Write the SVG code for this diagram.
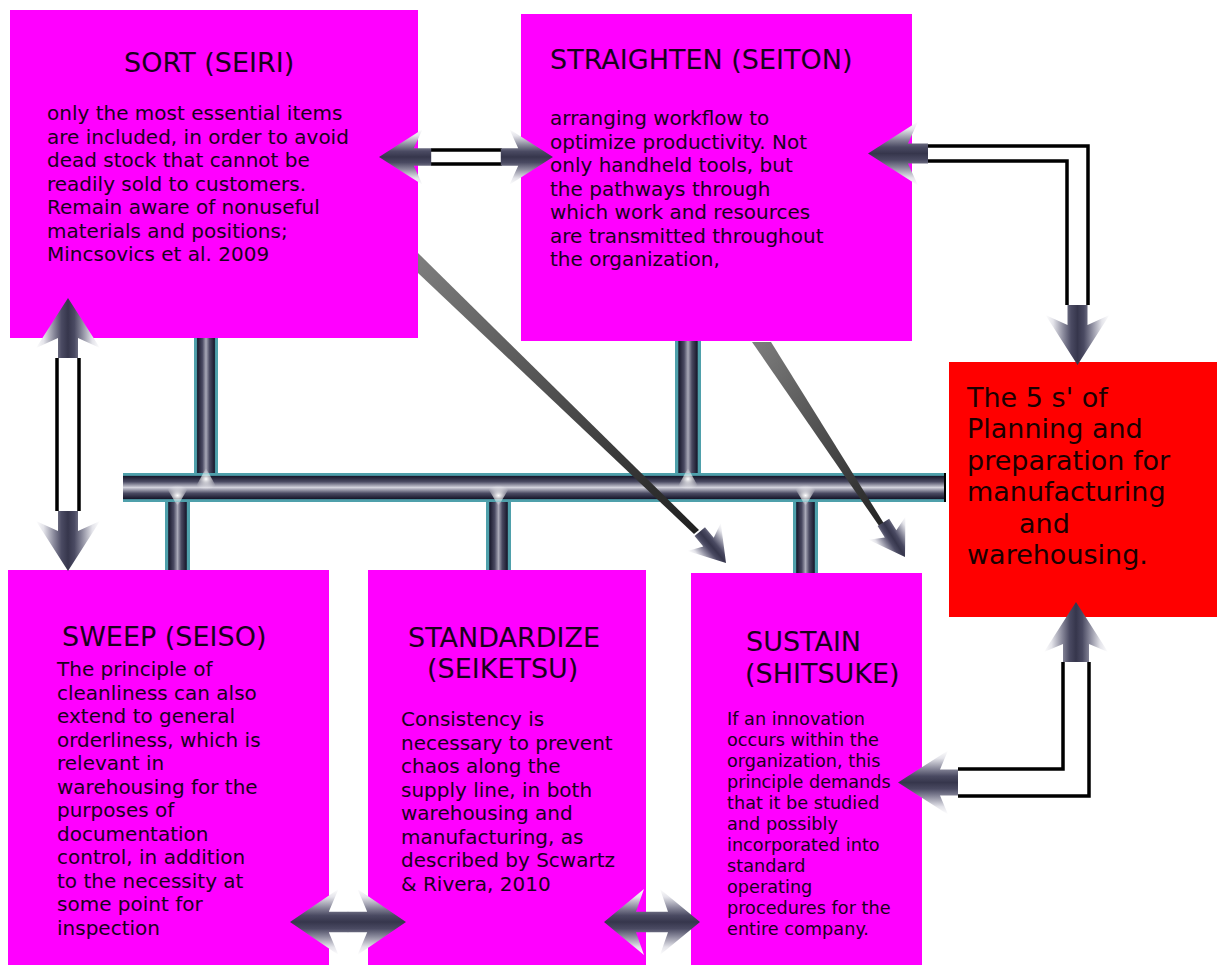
<svg xmlns="http://www.w3.org/2000/svg" width="1217" height="965" viewBox="0 0 1217 965">
<defs>
<style>
.box{fill:#ff00ff}
.red{fill:#ff0000}
.title{font-family:"DejaVu Sans",sans-serif;font-size:27px;fill:#1a001c}
.body{font-family:"DejaVu Sans",sans-serif;font-size:20px;fill:#1a001c}
.small{font-family:"DejaVu Sans",sans-serif;font-size:17.7px;fill:#1a001c}
.redtxt{font-family:"DejaVu Sans",sans-serif;font-size:27px;fill:#1a0000}
.line{fill:none;stroke:#000;stroke-width:3.5}
.shaft{fill:#fff;stroke:none}
</style>
<linearGradient id="pipeH" x1="0" y1="0" x2="0" y2="1">
<stop offset="0" stop-color="#4fa0ab"/><stop offset="0.08" stop-color="#4fa0ab"/>
<stop offset="0.12" stop-color="#1a1a2e"/><stop offset="0.3" stop-color="#4a4a62"/>
<stop offset="0.5" stop-color="#d2d2dc"/><stop offset="0.7" stop-color="#4a4a62"/>
<stop offset="0.88" stop-color="#1a1a2e"/><stop offset="0.92" stop-color="#4fa0ab"/>
<stop offset="1" stop-color="#4fa0ab"/>
</linearGradient>
<linearGradient id="pipeV" x1="0" y1="0" x2="1" y2="0">
<stop offset="0" stop-color="#4fa0ab"/><stop offset="0.1" stop-color="#4fa0ab"/>
<stop offset="0.15" stop-color="#1a1a2e"/><stop offset="0.35" stop-color="#4a4a62"/>
<stop offset="0.5" stop-color="#a9a9b8"/><stop offset="0.65" stop-color="#4a4a62"/>
<stop offset="0.85" stop-color="#1a1a2e"/><stop offset="0.9" stop-color="#4fa0ab"/>
<stop offset="1" stop-color="#4fa0ab"/>
</linearGradient>
<linearGradient id="headGrad" x1="0" y1="0" x2="0" y2="1">
<stop offset="0" stop-color="#ffffff"/><stop offset="0.12" stop-color="#e4e4ea"/>
<stop offset="0.28" stop-color="#8a8a9c"/><stop offset="0.4" stop-color="#4a4a62"/>
<stop offset="0.5" stop-color="#36364c"/><stop offset="0.6" stop-color="#4a4a62"/>
<stop offset="0.72" stop-color="#8a8a9c"/><stop offset="0.88" stop-color="#e4e4ea"/>
<stop offset="1" stop-color="#ffffff"/>
</linearGradient>
<linearGradient id="wedgeGrad" x1="0" y1="0" x2="1" y2="1">
<stop offset="0" stop-color="#7e7e7e"/><stop offset="1" stop-color="#202020"/>
</linearGradient>
<radialGradient id="glow" cx="0.5" cy="0.5" r="0.5">
<stop offset="0" stop-color="#ffffff" stop-opacity="1"/><stop offset="1" stop-color="#ffffff" stop-opacity="0"/>
</radialGradient>
<polygon id="head" points="0,0 -50,-32 -40,-10 -60,-10 -60,10 -40,10 -50,32" fill="url(#headGrad)"/>
<polygon id="headWide" points="0,0 -50,-32 -42,-13 -60,-13 -60,13 -42,13 -50,32" fill="url(#headGrad)"/>
</defs>

<rect width="1217" height="965" fill="#ffffff"/>

<g id="sort">
<rect class="box" x="10" y="10" width="408" height="328"/>
<text class="title" x="124" y="72">SORT (SEIRI)</text>
<text class="body" x="47" y="120">
<tspan x="47" dy="0">only the most essential items</tspan>
<tspan x="47" dy="23.5">are included, in order to avoid</tspan>
<tspan x="47" dy="23.5">dead stock that cannot be</tspan>
<tspan x="47" dy="23.5">readily sold to customers.</tspan>
<tspan x="47" dy="23.5">Remain aware of nonuseful</tspan>
<tspan x="47" dy="23.5">materials and positions;</tspan>
<tspan x="47" dy="23.5">Mincsovics et al. 2009</tspan>
</text>
</g>

<g id="straighten">
<rect class="box" x="521" y="14" width="391" height="327"/>
<text class="title" x="550" y="69">STRAIGHTEN (SEITON)</text>
<text class="body" x="550" y="125">
<tspan x="550" dy="0">arranging workflow to</tspan>
<tspan x="550" dy="23.5">optimize productivity. Not</tspan>
<tspan x="550" dy="23.5">only handheld tools, but</tspan>
<tspan x="550" dy="23.5">the pathways through</tspan>
<tspan x="550" dy="23.5">which work and resources</tspan>
<tspan x="550" dy="23.5">are transmitted throughout</tspan>
<tspan x="550" dy="23.5">the organization,</tspan>
</text>
</g>

<g id="five-s">
<rect class="red" x="949" y="362" width="268" height="255"/>
<text class="redtxt" x="967" y="407">
<tspan x="967" dy="0">The 5 s' of</tspan>
<tspan x="967" dy="31.4">Planning and</tspan>
<tspan x="967" dy="31.4">preparation for</tspan>
<tspan x="967" dy="31.4">manufacturing</tspan>
<tspan x="1019" dy="31.4">and</tspan>
<tspan x="967" dy="31.4">warehousing.</tspan>
</text>
</g>

<g id="sweep">
<rect class="box" x="8" y="570" width="321" height="395"/>
<text class="title" x="62" y="646">SWEEP (SEISO)</text>
<text class="body" x="57" y="676">
<tspan x="57" dy="0">The principle of</tspan>
<tspan x="57" dy="23.5">cleanliness can also</tspan>
<tspan x="57" dy="23.5">extend to general</tspan>
<tspan x="57" dy="23.5">orderliness, which is</tspan>
<tspan x="57" dy="23.5">relevant in</tspan>
<tspan x="57" dy="23.5">warehousing for the</tspan>
<tspan x="57" dy="23.5">purposes of</tspan>
<tspan x="57" dy="23.5">documentation</tspan>
<tspan x="57" dy="23.5">control, in addition</tspan>
<tspan x="57" dy="23.5">to the necessity at</tspan>
<tspan x="57" dy="23.5">some point for</tspan>
<tspan x="57" dy="23.5">inspection</tspan>
</text>
</g>

<g id="standardize">
<rect class="box" x="368" y="570" width="278" height="395"/>
<text class="title" x="408" y="647">STANDARDIZE</text>
<text class="title" x="427" y="678">(SEIKETSU)</text>
<text class="body" x="401" y="726">
<tspan x="401" dy="0">Consistency is</tspan>
<tspan x="401" dy="23.5">necessary to prevent</tspan>
<tspan x="401" dy="23.5">chaos along the</tspan>
<tspan x="401" dy="23.5">supply line, in both</tspan>
<tspan x="401" dy="23.5">warehousing and</tspan>
<tspan x="401" dy="23.5">manufacturing, as</tspan>
<tspan x="401" dy="23.5">described by Scwartz</tspan>
<tspan x="401" dy="23.5">&amp; Rivera, 2010</tspan>
</text>
</g>

<g id="sustain">
<rect class="box" x="691" y="573" width="231" height="392"/>
<text class="title" x="746" y="651">SUSTAIN</text>
<text class="title" x="745" y="683">(SHITSUKE)</text>
<text class="small" x="727" y="725">
<tspan x="727" dy="0">If an innovation</tspan>
<tspan x="727" dy="21">occurs within the</tspan>
<tspan x="727" dy="21">organization, this</tspan>
<tspan x="727" dy="21">principle demands</tspan>
<tspan x="727" dy="21">that it be studied</tspan>
<tspan x="727" dy="21">and possibly</tspan>
<tspan x="727" dy="21">incorporated into</tspan>
<tspan x="727" dy="21">standard</tspan>
<tspan x="727" dy="21">operating</tspan>
<tspan x="727" dy="21">procedures for the</tspan>
<tspan x="727" dy="21">entire company.</tspan>
</text>
</g>

<g id="connectors">
<!-- pipe network -->
<rect x="194" y="338" width="24" height="150" fill="url(#pipeV)"/>
<rect x="675" y="341" width="26" height="147" fill="url(#pipeV)"/>
<rect x="165" y="488" width="25" height="82" fill="url(#pipeV)"/>
<rect x="486" y="488" width="25" height="82" fill="url(#pipeV)"/>
<rect x="793" y="488" width="25" height="85" fill="url(#pipeV)"/>
<rect x="123" y="473" width="822" height="29" fill="url(#pipeH)"/>
<line x1="945" y1="473" x2="945" y2="502" stroke="#000" stroke-width="2"/>
<polygon points="194,490 218,490 206,468" fill="url(#glow)"/>
<polygon points="676,490 700,490 688,468" fill="url(#glow)"/>
<polygon points="165,485 190,485 177.5,506" fill="url(#glow)"/>
<polygon points="486,485 511,485 498.5,506" fill="url(#glow)"/>
<polygon points="793,485 818,485 805.5,506" fill="url(#glow)"/>

<!-- diagonal tapered arrows -->
<polygon points="418,253 418,273 694,534 699,530" fill="url(#wedgeGrad)"/>
<use href="#head" transform="translate(726,563) rotate(50) scale(0.68)"/>
<polygon points="752,342 771,342 888,530 884,533" fill="url(#wedgeGrad)"/>
<use href="#head" transform="translate(905,557) rotate(58) scale(0.68)"/>

<!-- SORT <-> STRAIGHTEN -->
<rect class="shaft" x="431" y="150" width="71" height="14"/>
<path class="line" d="M431,150 H502 M431,164 H502" stroke-width="3"/>
<use href="#head" transform="translate(379,157) rotate(180) scale(0.87)"/>
<use href="#head" transform="translate(553,157) scale(0.87)"/>

<!-- STRAIGHTEN <-> 5 s' -->
<polygon class="shaft" points="928,146 1088,146 1088,305 1067,305 1067,161 928,161"/>
<path class="line" d="M928,146 H1088 V305"/>
<path class="line" d="M928,161 H1067 V305"/>
<use href="#head" transform="translate(868,153.5) rotate(180)"/>
<use href="#head" transform="translate(1077.5,365) rotate(90)"/>

<!-- SORT <-> SWEEP -->
<rect class="shaft" x="57" y="358" width="22" height="153"/>
<path class="line" d="M57,358 V511 M79,358 V511"/>
<use href="#head" transform="translate(68,298) rotate(-90)"/>
<use href="#head" transform="translate(68,571) rotate(90)"/>

<!-- 5 s' <-> SUSTAIN -->
<polygon class="shaft" points="958,769 1063,769 1063,662 1089,662 1089,796 958,796"/>
<path class="line" d="M958,769 H1063 V662" stroke-width="4"/>
<path class="line" d="M958,796 H1089 V662" stroke-width="5"/>
<use href="#headWide" transform="translate(1076,602) rotate(-90)"/>
<use href="#headWide" transform="translate(898,782.5) rotate(180)"/>

<!-- SWEEP <-> STANDARDIZE -->
<use href="#head" transform="translate(290,922) rotate(180) scale(0.97,1.03)"/>
<use href="#head" transform="translate(406,922) scale(0.97,1.03)"/>

<!-- STANDARDIZE <-> SUSTAIN -->
<use href="#head" transform="translate(604,922) rotate(180) scale(0.8,1.03)"/>
<use href="#head" transform="translate(700,922) scale(0.8,1.03)"/>
</g>
</svg>
